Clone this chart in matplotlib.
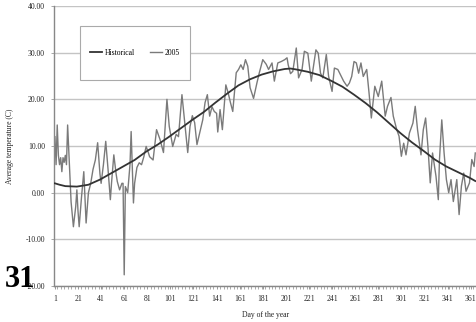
import matplotlib
matplotlib.use("Agg")
import matplotlib.pyplot as plt
from matplotlib.patches import Rectangle
from matplotlib.ticker import MultipleLocator

plt.rcParams['font.family'] = ['Liberation Serif', 'DejaVu Serif']

# Historische Mittelwerte (Tag, Temperatur)
tage_hist = [1, 5, 10, 20, 30, 40, 50, 60, 70, 80, 90, 100, 110, 120, 130, 140,
             150, 160, 170, 180, 190, 200, 205, 210, 220, 230, 240, 250, 260,
             270, 280, 290, 300, 310, 320, 330, 340, 350, 360, 365]
temp_hist = [2.0, 1.7, 1.4, 1.3, 1.7, 2.8, 4.2, 5.6, 7.0, 8.8, 10.3, 12.0, 13.8,
             15.6, 17.3, 19.3, 21.2, 23.0, 24.3, 25.3, 26.0, 26.5, 26.6, 26.4,
             25.9, 25.2, 24.0, 22.7, 21.0, 19.2, 17.2, 15.0, 12.8, 10.8, 9.0,
             7.1, 5.6, 4.4, 3.2, 2.5]

# Messwerte 2005 (Tag, Temperatur)
tage_2005 = [1, 2, 3, 4, 5, 6, 7, 8, 9, 10, 11, 12, 13, 14, 15, 17, 19, 20, 21,
             22, 24, 26, 28, 30, 32, 34, 36, 38, 40, 41, 43, 45, 47, 49, 50, 52,
             54, 55, 57, 59, 60, 61, 62, 64, 66, 67, 69, 70, 72, 74, 76, 78, 80,
             82, 83, 86, 89, 92, 95, 98, 100, 103, 106, 108, 111, 113, 116, 118,
             120, 122, 124, 127, 129, 131, 133, 135, 137, 139, 141, 142, 144,
             146, 149, 151, 153, 155, 158, 160, 162, 164, 166, 168, 170, 173,
             176, 178, 181, 184, 186, 189, 191, 194, 197, 200, 202, 203, 205,
             207, 210, 212, 215, 217, 220, 223, 227, 229, 231, 233, 236, 238,
             241, 243, 246, 249, 251, 254, 256, 258, 260, 262, 264, 266, 268,
             271, 273, 275, 278, 281, 284, 287, 289, 292, 294, 297, 299, 301,
             303, 305, 308, 311, 313, 315, 318, 320, 322, 324, 326, 328, 331,
             333, 334, 336, 338, 340, 342, 344, 346, 349, 351, 353, 355, 357,
             360, 362, 364, 365]
temp_2005 = [12.0, 6.0, 14.5, 8.0, 6.0, 7.5, 4.5, 7.5, 6.5, 8.0, 6.0, 14.5, 9.0,
             3.0, -2.0, -7.3, -3.0, 0.6, -4.0, -7.3, -1.0, 4.5, -6.5, 0.0, 2.0,
             5.0, 7.0, 10.7, 4.0, 2.0, 6.0, 11.0, 5.0, -1.5, 2.0, 8.1, 4.0, 2.4,
             0.6, 2.0, 2.0, -17.6, 1.3, 0.0, 6.0, 13.1, -2.2, 2.0, 5.4, 6.4,
             6.0, 7.7, 9.9, 8.5, 7.7, 7.0, 13.5, 11.4, 8.6, 20.0, 14.2, 9.9,
             12.5, 12.0, 21.0, 16.0, 8.6, 14.2, 16.5, 15.0, 10.3, 13.5, 15.6,
             19.3, 21.0, 16.4, 18.4, 17.4, 17.0, 13.0, 17.8, 13.5, 23.1, 21.4,
             19.3, 17.4, 25.7, 26.4, 27.4, 26.4, 28.5, 27.1, 22.5, 20.2, 23.6,
             25.7, 28.5, 27.5, 26.4, 27.8, 23.9, 27.8, 28.1, 28.5, 28.9, 27.4,
             25.5, 26.0, 31.0, 24.6, 26.4, 30.3, 29.9, 23.9, 30.6, 29.9, 25.6,
             24.6, 29.6, 24.9, 21.7, 26.7, 26.4, 24.9, 23.9, 22.8, 23.5, 24.9,
             28.1, 27.8, 25.6, 27.8, 24.9, 26.4, 21.4, 16.0, 22.8, 20.6, 23.9,
             16.4, 18.5, 20.4, 16.4, 13.5, 12.1, 7.8, 10.6, 8.1, 12.8, 14.9,
             18.5, 13.5, 8.1, 13.5, 16.0, 9.9, 2.1, 8.5, 3.5, -1.5, 7.1, 15.6,
             8.5, 2.8, 0.0, 2.8, -1.9, 2.8, -4.7, 1.4, 4.2, 0.3, 2.1, 7.1, 5.6,
             8.5]

x_ticks = list(range(1, 362, 20))
y_ticks = [-20, -10, 0, 10, 20, 30, 40]

fig = plt.figure(figsize=(4.77, 3.22), dpi=100)
ax = fig.add_axes([54/477, 36/322, 1 - 54/477, 280/322])

for y in y_ticks:
    ax.axhline(y, color="#c4c4c4", linewidth=1.0, zorder=0)

ax.plot(tage_hist, temp_hist, color="#333333", linewidth=1.3, label="Historical", zorder=3)
ax.plot(tage_2005, temp_2005, color="#7a7a7a", linewidth=1.0, label="2005", zorder=2)

ax.set_xlim(0.2, 366.5)
ax.set_ylim(-20, 40)
ax.set_xticks(x_ticks)
ax.set_xticklabels([str(t) for t in x_ticks])
ax.xaxis.set_minor_locator(MultipleLocator(3))
ax.set_yticks(y_ticks)
ax.set_yticklabels([f"{t:.2f}" for t in y_ticks])
ax.tick_params(axis="both", labelsize=5.5, colors="#222222", length=2.5, width=0.6, pad=4)
ax.tick_params(axis="x", which="minor", length=2, width=0.5, color="#888888")
ax.tick_params(axis="x", which="major", color="#888888")
ax.tick_params(axis="y", color="#999999")

for s in ["top", "right"]:
    ax.spines[s].set_visible(False)
for s in ["left", "bottom"]:
    ax.spines[s].set_color("#888888")
    ax.spines[s].set_linewidth(1.0)

ax.set_ylabel("Average temperature (C)", fontsize=5.5, color="#222222", labelpad=8)
ax.set_xlabel("Day of the year", fontsize=5.5, color="#222222", labelpad=6)

# Legendenkasten
kasten = Rectangle((80/477, 1 - 80/322), 110/477, 54/322,
                   transform=fig.transFigure, facecolor="white",
                   edgecolor="#aaaaaa", linewidth=0.8, zorder=4, clip_on=False)
ax.add_patch(kasten)

leg = ax.legend(loc="center", bbox_to_anchor=(135/477, 1 - 53/322),
                bbox_transform=fig.transFigure, ncol=2, frameon=False,
                fontsize=5.5, handlelength=1.6, handletextpad=0.3, columnspacing=2.0)
leg.set_zorder(5)

fig.text(5/477, 1 - 287/322, "31", fontsize=22, fontweight="bold", color="black",
         ha="left", va="baseline")

fig.savefig("out.png", dpi=100)
